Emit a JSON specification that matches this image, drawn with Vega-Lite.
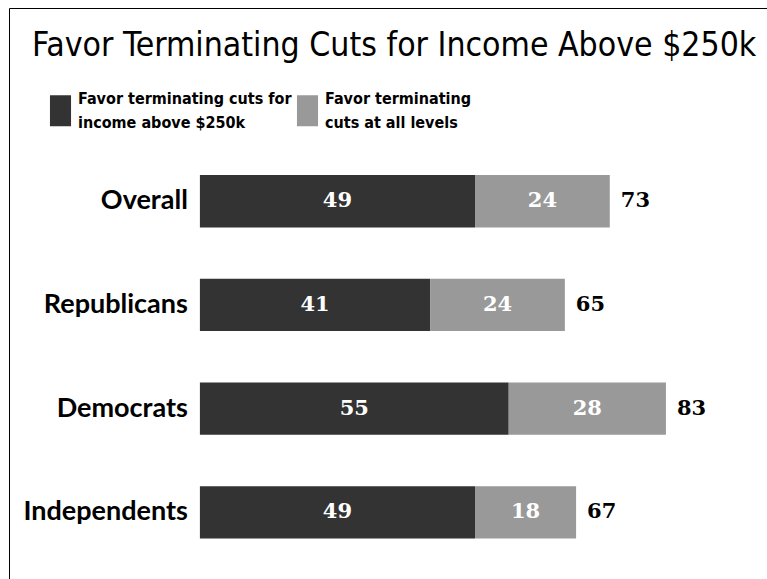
{
  "$schema": "https://vega.github.io/schema/vega-lite/v6.json",
  "width": 758,
  "height": 571,
  "autosize": {"type": "none"},
  "padding": {"left": 9, "top": 8, "right": 0, "bottom": 0},
  "background": "white",
  "title": {
    "text": "Favor Terminating Cuts for Income Above $250k",
    "anchor": "start",
    "frame": "group",
    "orient": "top",
    "offset": 0,
    "dx": 23,
    "dy": 55,
    "font": "DejaVu Sans Condensed",
    "fontSize": 33.5,
    "fontWeight": "normal",
    "color": "black"
  },
  "config": {"view": {"stroke": null}},
  "data": {
    "values": [
      {"group": "Overall", "series": "Favor terminating cuts for income above $250k", "value": 49},
      {"group": "Overall", "series": "Favor terminating cuts at all levels", "value": 24},
      {"group": "Republicans", "series": "Favor terminating cuts for income above $250k", "value": 41},
      {"group": "Republicans", "series": "Favor terminating cuts at all levels", "value": 24},
      {"group": "Democrats", "series": "Favor terminating cuts for income above $250k", "value": 55},
      {"group": "Democrats", "series": "Favor terminating cuts at all levels", "value": 28},
      {"group": "Independents", "series": "Favor terminating cuts for income above $250k", "value": 49},
      {"group": "Independents", "series": "Favor terminating cuts at all levels", "value": 18}
    ]
  },
  "transform": [
    {"stack": "value", "groupby": ["group"], "sort": [{"field": "series", "order": "descending"}], "as": ["x0", "x1"]},
    {"calculate": "(datum.x0 + datum.x1) / 2", "as": "mid"},
    {"joinaggregate": [{"op": "sum", "field": "value", "as": "total"}], "groupby": ["group"]}
  ],
  "encoding": {
    "y": {
      "field": "group",
      "type": "nominal",
      "sort": ["Overall", "Republicans", "Democrats", "Independents"],
      "scale": {"paddingInner": 0.495, "paddingOuter": 1.019, "align": 0.805},
      "axis": {"orient": "left", "labels": false, "ticks": false, "grid": false, "title": null, "domain": true, "domainColor": "black", "domainWidth": 1}
    }
  },
  "layer": [
    {
      "mark": {"type": "bar"},
      "encoding": {
        "x": {
          "field": "x0",
          "type": "quantitative",
          "scale": {"domain": [-34, 101], "nice": false, "zero": false},
          "axis": {"orient": "top", "labels": false, "ticks": false, "grid": false, "title": null, "domain": true, "domainColor": "black", "domainWidth": 1}
        },
        "x2": {"field": "x1"},
        "color": {
          "field": "series",
          "type": "nominal",
          "scale": {
            "domain": ["Favor terminating cuts for income above $250k", "Favor terminating cuts at all levels"],
            "range": ["#333333", "#999999"]
          },
          "legend": {
            "orient": "none",
            "legendX": 36,
            "legendY": 87,
            "direction": "horizontal",
            "columns": 2,
            "title": null,
            "padding": 0,
            "columnPadding": 0,
            "symbolType": "M-0.68,-1H0.68V1H-0.68Z",
            "symbolSize": 961,
            "symbolStrokeWidth": 0,
            "symbolOpacity": 1,
            "labelOffset": 2,
            "labelLimit": 0,
            "labelFont": "DejaVu Sans Condensed",
            "labelFontSize": 16,
            "labelFontWeight": "bold",
            "labelColor": "black",
            "labelExpr": "datum.value == 'Favor terminating cuts for income above $250k' ? ['Favor terminating cuts for', 'income above $250k'] : ['Favor terminating', 'cuts at all levels']",
            "encode": {"labels": {"update": {"lineHeight": {"value": 24}, "dy": {"value": -12}}}}
          }
        }
      }
    },
    {
      "mark": {"type": "text", "font": "DejaVu Serif", "fontWeight": "bold", "fontSize": 21, "color": "white", "baseline": "middle", "align": "center"},
      "encoding": {
        "x": {"field": "mid", "type": "quantitative"},
        "text": {"field": "value", "type": "quantitative"}
      }
    },
    {
      "transform": [{"filter": "datum.series == 'Favor terminating cuts for income above $250k'"}],
      "mark": {"type": "text", "font": "DejaVu Serif", "fontWeight": "bold", "fontSize": 21, "color": "black", "baseline": "middle", "align": "left", "dx": 11},
      "encoding": {
        "x": {"field": "total", "type": "quantitative"},
        "text": {"field": "total", "type": "quantitative"}
      }
    },
    {
      "transform": [{"filter": "datum.series == 'Favor terminating cuts for income above $250k'"}],
      "mark": {"type": "text", "font": "Lato", "fontWeight": "bold", "fontSize": 27, "color": "black", "baseline": "middle", "align": "right", "dx": -12},
      "encoding": {
        "x": {"datum": 0, "type": "quantitative"},
        "text": {"field": "group", "type": "nominal"}
      }
    }
  ]
}
